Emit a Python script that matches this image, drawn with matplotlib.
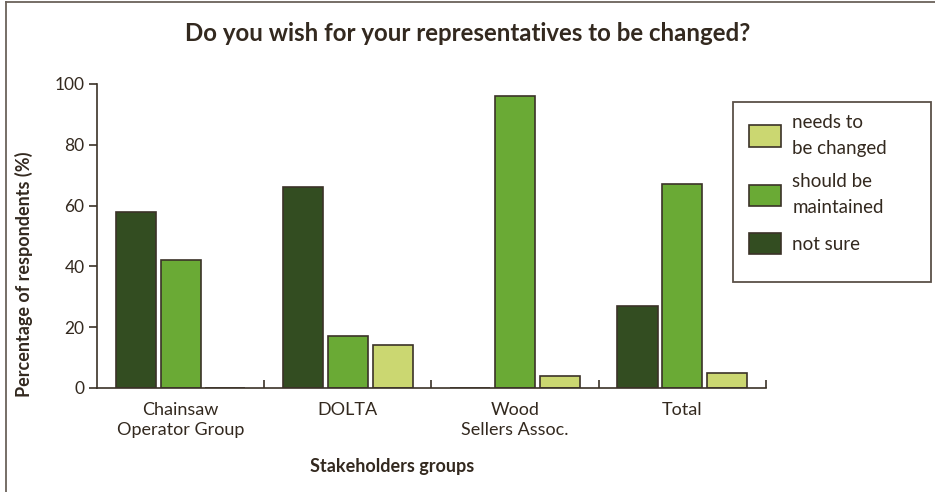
import numpy as np
import matplotlib.pyplot as plt
from matplotlib.lines import Line2D
from matplotlib.patches import Rectangle

plt.rcParams['font.family'] = ['Lato', 'DejaVu Sans']

# survey shares (%) per stakeholder group
groups = ["Chainsaw\nOperator Group", "DOLTA", "Wood\nSellers Assoc.", "Total"]
not_sure = [58, 66, 0, 27]
maintained = [42, 17, 96, 67]
changed = [0, 14, 4, 5]

dark = "#334d21"
mid = "#6aaa35"
light = "#cbd771"
edge = "#3b3228"
txt = "#33291f"

fig = plt.figure(figsize=(9.35, 4.92), dpi=100)
ax = fig.add_axes([0.1037, 0.2114, 0.7155, 0.6179])
ax.set_facecolor("none")

x = np.arange(len(groups))
w = 0.24
step = 0.268
ax.bar(x - step, not_sure, w, color=dark, edgecolor=edge, linewidth=1.2, label="not sure")
ax.bar(x, maintained, w, color=mid, edgecolor=edge, linewidth=1.2, label="should be\nmaintained")
ax.bar(x + step, changed, w, color=light, edgecolor=edge, linewidth=1.2, label="needs to\nbe changed")

ax.set_xlim(-0.5, 3.5)
ax.set_ylim(0, 100)
ax.set_yticks([0, 20, 40, 60, 80, 100])
ax.set_xticks(x)
ax.set_xticklabels(groups, fontsize=13, color=txt, linespacing=1.3)
ax.set_xticks([0.5, 1.5, 2.5, 3.5], minor=True)
ax.tick_params(axis="x", which="major", length=0, pad=10)
ax.tick_params(axis="x", which="minor", direction="in", length=6, color=edge, width=1.2)
ax.tick_params(axis="y", length=6, color=edge, width=1.2, labelsize=12.5, labelcolor=txt, pad=3)

for s in ["top", "right"]:
    ax.spines[s].set_visible(False)
for s in ["left", "bottom"]:
    ax.spines[s].set_color(edge)
    ax.spines[s].set_linewidth(1.2)

ax.set_ylabel("Percentage of respondents (%)", fontsize=13, fontweight="bold", color=txt)
ax.yaxis.set_label_coords(-0.096, 0.373)
fig.text(0.419, 0.051, "Stakeholders groups", fontsize=13, fontweight="bold",
         color=txt, ha="center", va="center")
fig.text(0.5, 0.932, "Do you wish for your representatives to be changed?",
         fontsize=17.3, fontweight="bold", color=txt, ha="center", va="center")

# legend box drawn separately, underneath the axes, entries placed inside it
fig.add_artist(Rectangle((0.784, 0.4268), 0.2118, 0.366, transform=fig.transFigure,
                         facecolor="white", edgecolor="#5a5048", linewidth=1.3, zorder=-1))
handles, labels = ax.get_legend_handles_labels()
leg = ax.legend(handles[::-1], labels[::-1], loc="upper left",
                bbox_to_anchor=(0.801, 0.768), bbox_transform=fig.transFigure,
                fontsize=13.5, frameon=False,
                handlelength=1.7, handleheight=1.39, labelspacing=0.9,
                borderpad=0, handletextpad=0.62, borderaxespad=0)
for t in leg.get_texts():
    t.set_color(txt)
    t.set_linespacing(1.6)

# frame along the top and left page edges
fig.add_artist(Line2D([0.0065, 0.0065], [0, 0.996], transform=fig.transFigure,
                      color="#6b625a", linewidth=1.3))
fig.add_artist(Line2D([0.0065, 1], [0.996, 0.996], transform=fig.transFigure,
                      color="#6b625a", linewidth=1.3))

fig.savefig("out.png", dpi=100)
